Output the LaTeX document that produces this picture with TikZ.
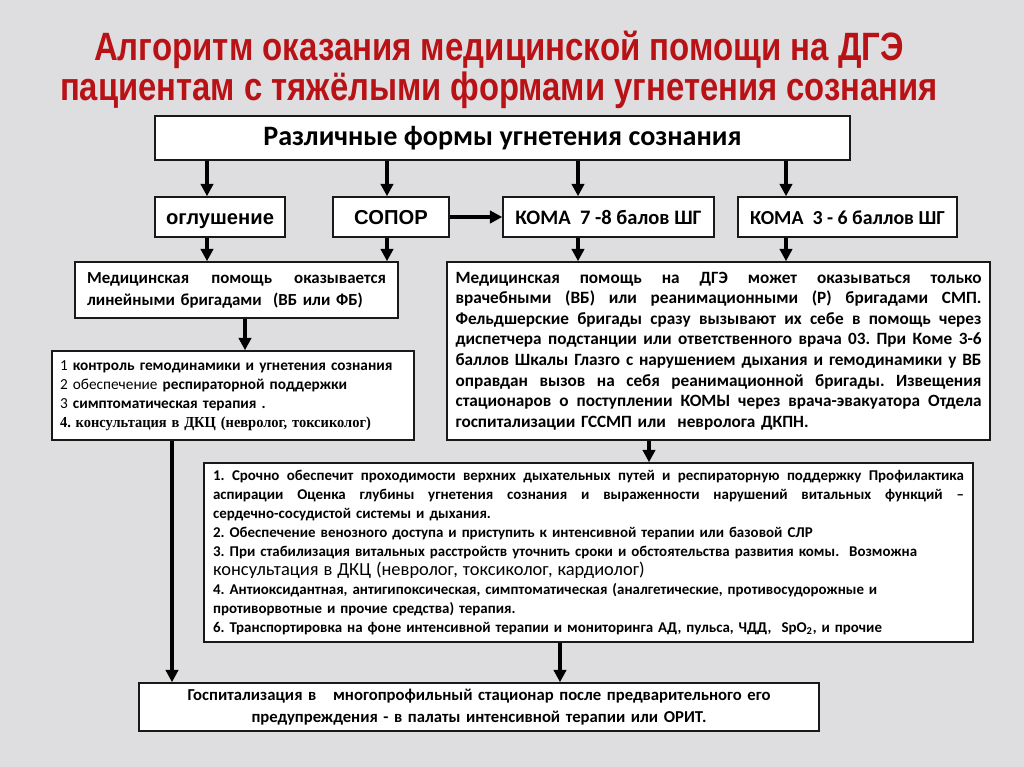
\documentclass[tikz,border=0pt]{standalone}
\usepackage{fontspec}
\setmainfont{Carlito}
\newfontfamily\arialfont{Liberation Sans}
\newfontfamily\timesfont{Liberation Serif}
\usepackage{graphicx}
\usepackage{tikz}
\usetikzlibrary{positioning, calc, arrows.meta}
\definecolor{dgRed}{RGB}{185, 18, 22}
\definecolor{dgMarble}{RGB}{222, 222, 224}
\definecolor{dgLine}{RGB}{25, 25, 25}
\frenchspacing
% justified line of given width
\newcommand{\fullline}[2]{\makebox[#1][s]{\spaceskip=0.22em plus 3em minus 0.05em\relax #2}}
\newcommand{\linw}{5.98cm}
\newcommand{\bigw}{10.52cm}
\newcommand{\actw}{15.02cm}
\tikzset{
    box/.style={
        draw=dgLine,
        line width=0.9pt,
        fill=white,
        inner sep=0pt
    },
    title/.style={
        font=\arialfont\bfseries\fontsize{22.5}{22.8}\selectfont,
        text=dgRed,
        align=center
    },
    head/.style={
        box,
        font=\bfseries\fontsize{16}{19}\selectfont
    },
    state/.style={
        box,
        minimum height=0.8cm,
        text height=9.8pt,
        text depth=1.2pt,
        font=\bfseries\fontsize{11.7}{14}\selectfont
    },
    para/.style={
        box,
        align=left,
        execute at begin node=\setlength{\parindent}{0pt},
        font=\bfseries\fontsize{9.8}{11.7}\selectfont
    },
    flow/.style={
        -{Triangle[width=7pt, length=7pt]},
        line width=1.8pt,
        color=black
    }
}

\begin{document}
\begin{tikzpicture}[x=0.02cm, y=-0.02cm]
  % marble background
  \fill[dgMarble] (0,0) rectangle (1024,767);

  % title
  \node[title] (ttl) at (499,70) {\resizebox{16.2cm}{\height}{Алгоритм оказания медицинской помощи на ДГЭ}\\
    \resizebox{17.56cm}{\height}{пациентам с тяжёлыми формами угнетения сознания}};

  % forms of depressed consciousness
  \node[head, minimum width=13.9cm, minimum height=0.88cm] (main) at (502.5,138) {Различные формы угнетения сознания};
  \node[state, minimum width=2.6cm, font=\arialfont\bfseries\fontsize{11.5}{14}\selectfont] (ogl) at (220,217) {оглушение};
  \node[state, minimum width=2.32cm, font=\arialfont\bfseries\fontsize{11.5}{14}\selectfont] (sopor) at (391,217) {СОПОР};
  \node[state, minimum width=4.22cm] (koma78) at (608.5,217) {КОМА\ \ 7 -8 балов ШГ};
  \node[state, minimum width=4.38cm, font=\bfseries\fontsize{11.3}{14}\selectfont] (koma36) at (847.5,217) {КОМА\ \ 3 - 6 баллов ШГ};

  % care by teams
  \node[para, minimum width=6.46cm, minimum height=1.12cm, text width=\linw, font=\bfseries\fontsize{9.6}{12.5}\selectfont] (medlin) at (236.5,290) {%
    \fullline{\linw}{Медицинская помощь оказывается}\\
    линейными бригадами\ \ (ВБ или ФБ)};
  \node[para, minimum width=10.86cm, minimum height=3.56cm, text width=\bigw] (medbig) at (718.5,351) {%
    \fullline{\bigw}{Медицинская помощь на ДГЭ может оказываться только}\\
    \fullline{\bigw}{врачебными (ВБ) или реанимационными (Р) бригадами СМП.}\\
    \fullline{\bigw}{Фельдшерские бригады сразу вызывают их себе в помощь через}\\
    \fullline{\bigw}{диспетчера подстанции или ответственного врача 03. При Коме 3-6}\\
    \fullline{\bigw}{баллов Шкалы Глазго с нарушением дыхания и гемодинамики у ВБ}\\
    \fullline{\bigw}{оправдан вызов на себя реанимационной бригады. Извещения}\\
    \fullline{\bigw}{стационаров о поступлении КОМЫ через врача-эвакуатора Отдела}\\
    госпитализации ГССМП или\ \ невролога ДКПН.};

  % first steps
  \node[para, minimum width=7.24cm, minimum height=1.78cm, text width=6.92cm, font=\bfseries\fontsize{8.7}{10.8}\selectfont] (list) at (233,395.5) {%
    {\mdseries 1} контроль гемодинамики и угнетения сознания\\
    {\mdseries 2 обеспечение} респираторной поддержки\\
    {\mdseries 3} симптоматическая терапия .\\
    \resizebox{6.22cm}{\height}{\timesfont 4. консультация в ДКЦ (невролог, токсиколог)}};
  \node[para, minimum width=15.38cm, minimum height=3.58cm, text width=\actw, font=\bfseries\fontsize{8.5}{10.8}\selectfont] (acts) at (588.5,552.5) {%
    \fullline{\actw}{1. Срочно обеспечит проходимости верхних дыхательных путей и респираторную поддержку Профилактика}\\
    \fullline{\actw}{аспирации\ Оценка глубины угнетения сознания и выраженности нарушений витальных функций --}\\
    сердечно-сосудистой системы и дыхания.\\
    2. Обеспечение венозного доступа и приступить к интенсивной терапии или базовой СЛР\\
    3. При стабилизация витальных расстройств уточнить сроки и обстоятельства развития комы.\ \ Возможна\\
    {\mdseries\fontsize{10.5}{10.8}\selectfont консультация в ДКЦ (невролог, токсиколог, кардиолог)}\\
    4. Антиоксидантная, антигипоксическая, симптоматическая (аналгетические, противосудорожные и\\
    противорвотные и прочие средства) терапия.\\
    6. Транспортировка на фоне интенсивной терапии и мониторинга АД, пульса, ЧДД,\ \ SpO\textsubscript{2}, и прочие};

  % hospital
  \node[para, align=center, minimum width=13.6cm, minimum height=0.96cm, text width=13.2cm, font=\bfseries\fontsize{9.5}{12.5}\selectfont] (hosp) at (479,707) {%
    Госпитализация в\ \ \ многопрофильный стационар после предварительного его\\
    предупреждения - в палаты интенсивной терапии или ОРИТ.};

  % arrow columns
  \coordinate (cOgl) at (207,0);
  \coordinate (cSop) at (387,0);
  \coordinate (cK78) at (578,0);
  \coordinate (cK36) at (786,0);
  \coordinate (cLin) at (245,0);
  \coordinate (cBig) at (649,0);
  \coordinate (cLst) at (172,0);
  \coordinate (cAct) at (560,0);

  \draw[flow] (cOgl |- main.south) -- (cOgl |- ogl.north);
  \draw[flow] (cSop |- main.south) -- (cSop |- sopor.north);
  \draw[flow] (cK78 |- main.south) -- (cK78 |- koma78.north);
  \draw[flow] (cK36 |- main.south) -- (cK36 |- koma36.north);
  \draw[flow] (sopor.east) -- (koma78.west);

  \draw[flow] (cOgl |- ogl.south) -- (cOgl |- medlin.north);
  \draw[flow] (cSop |- sopor.south) -- (cSop |- medlin.north);
  \draw[flow] (cK78 |- koma78.south) -- (cK78 |- medbig.north);
  \draw[flow] (cK36 |- koma36.south) -- (cK36 |- medbig.north);

  \draw[flow] (cLin |- medlin.south) -- (cLin |- list.north);
  \draw[flow] (cBig |- medbig.south) -- (cBig |- acts.north);
  \draw[flow] (cLst |- list.south) -- (cLst |- hosp.north);
  \draw[flow] (cAct |- acts.south) -- (cAct |- hosp.north);
\end{tikzpicture}
\end{document}
